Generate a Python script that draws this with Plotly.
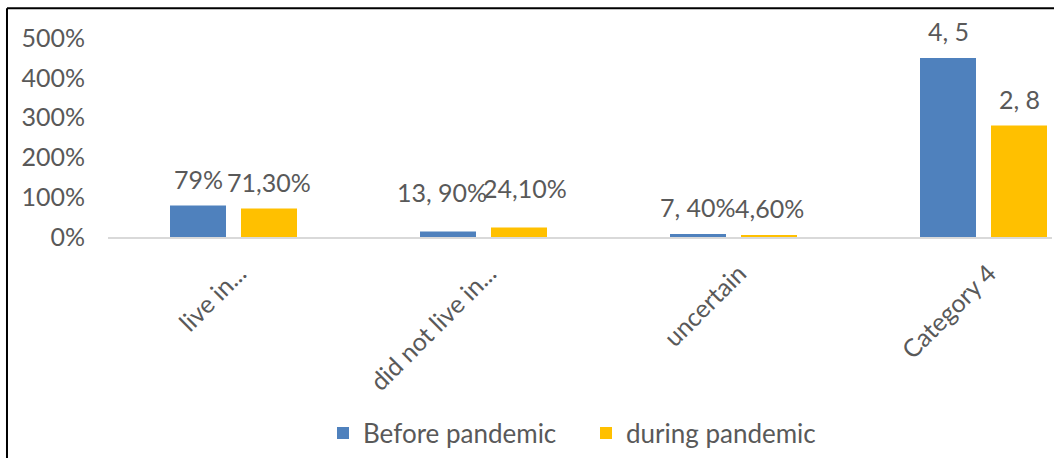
import plotly.graph_objects as go

# Survey responses, before vs during the pandemic
categories = ["live in...", "did not live in...", "uncertain", "Category 4"]
before_values = [0.79, 0.139, 0.074, 4.5]
during_values = [0.713, 0.241, 0.046, 2.8]
before_labels = ["79%", "13, 90%", "7, 40%", "4, 5"]
during_labels = ["71,30%", "24,10%", "4,60%", "2, 8"]
y_ticks = [0, 1, 2, 3, 4, 5]

FONT = "Lato"
TEXT_COLOR = "#595959"
BLUE = "#4F81BD"
GOLD = "#FFC000"

BAR_W = 0.224
OFF_BEFORE = -0.252
OFF_DURING = 0.032

fig = go.Figure()
fig.add_trace(go.Bar(
    name="Before pandemic", x=categories, y=before_values,
    width=BAR_W, offset=OFF_BEFORE, marker_color=BLUE,
    marker_line=dict(width=0),
))
fig.add_trace(go.Bar(
    name="during pandemic", x=categories, y=during_values,
    width=BAR_W, offset=OFF_DURING, marker_color=GOLD,
    marker_line=dict(width=0),
))

# Value labels above each bar (middle group lifted a little higher)
annotations = []
lift = {1: 12}
nudge = {1: (-6, 6)}
for i in range(len(categories)):
    dx = nudge.get(i, (0, 0))
    for k, (vals, labs, off) in enumerate(((before_values, before_labels, OFF_BEFORE),
                                           (during_values, during_labels, OFF_DURING))):
        annotations.append(dict(
            x=i + off + BAR_W / 2, y=vals[i], xref="x", yref="y",
            text=labs[i], showarrow=False, yanchor="middle",
            yshift=27 + lift.get(i, 0), xshift=dx[k],
            font=dict(family=FONT, size=25, color=TEXT_COLOR),
        ))

# Chart frame (top and left edges)
shapes = [
    dict(type="line", xref="paper", yref="paper", x0=-0.107, x1=1.05,
         y0=1.149, y1=1.149, line=dict(color="black", width=2)),
    dict(type="line", xref="paper", yref="paper", x0=-0.107, x1=-0.107,
         y0=1.149, y1=-1.2, line=dict(color="black", width=2)),
]

fig.update_layout(
    width=1054, height=458,
    margin=dict(l=108, r=2, t=38, b=219),
    paper_bgcolor="white", plot_bgcolor="white",
    font=dict(family=FONT, size=25, color=TEXT_COLOR),
    barmode="overlay",
    showlegend=True,
    legend=dict(orientation="h", x=(323 - 108) / 944, xanchor="left", y=-0.985,
                yanchor="middle", font=dict(family=FONT, size=26, color=TEXT_COLOR),
                itemwidth=30, traceorder="normal",
                entrywidth=218, entrywidthmode="pixels"),
    annotations=annotations,
    shapes=shapes,
)
fig.update_xaxes(
    type="category", range=[-0.5, 3.276],
    showline=True, linecolor="#D9D9D9", linewidth=2,
    showgrid=False, ticks="", tickangle=-45,
    tickfont=dict(family=FONT, size=25, color=TEXT_COLOR),
    ticklabelstandoff=10, ticklabelshift=6,
)
fig.update_yaxes(
    range=[0, 5], tickvals=y_ticks, tickformat=".0%",
    showgrid=False, zeroline=False, showline=False, ticks="",
    tickfont=dict(family=FONT, size=25, color=TEXT_COLOR),
    ticklabelstandoff=22,
)

fig.write_html("out.html")
